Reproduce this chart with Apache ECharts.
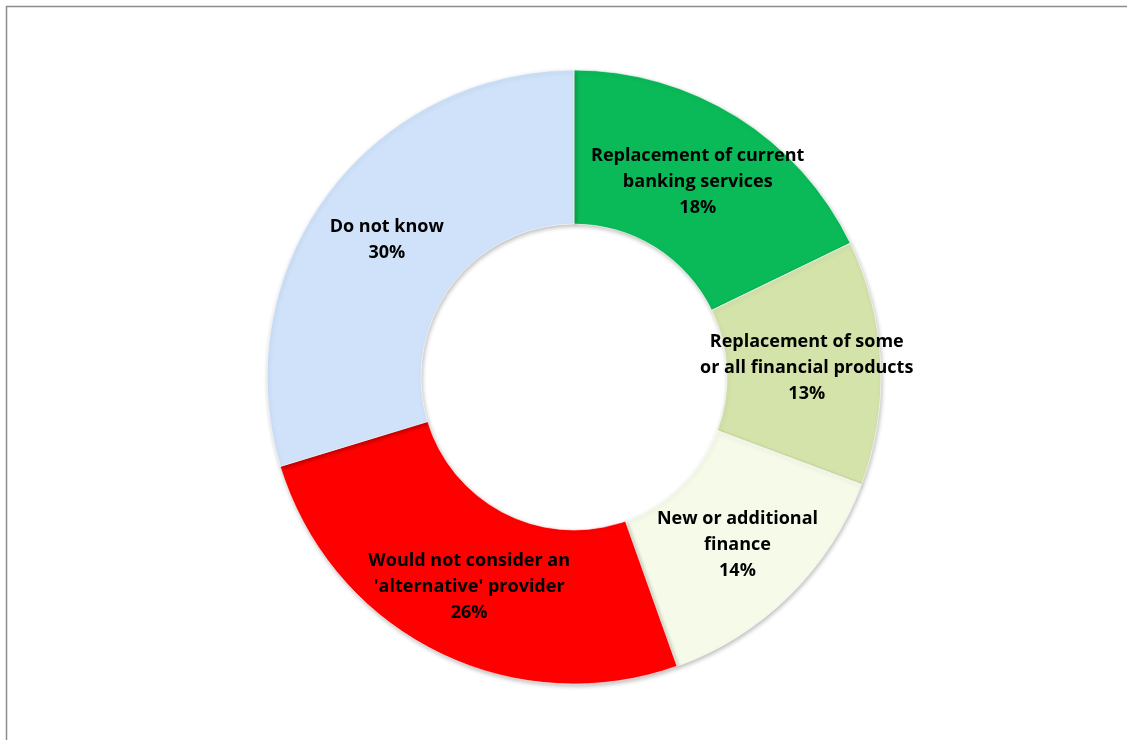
<!DOCTYPE html>
<html>
<head>
<meta charset="utf-8">
<script src="https://cdn.jsdelivr.net/npm/echarts@6/dist/echarts.min.js"></script>
<style>
  html, body { margin: 0; padding: 0; background: #fff; }
  #chart { width: 1127px; height: 740px; }
</style>
</head>
<body>
<div id="chart"></div>
<script>
// Attitudes towards 'alternative' finance providers (share of respondents, %)
const categories = [
  'Replacement of current\nbanking services',
  'Replacement of some\nor all financial products',
  'New or additional\nfinance',
  "Would not consider an\n'alternative' provider",
  'Do not know'
];
const shares = [18, 13, 14, 26, 30];
const sliceColors = ['#0ABA58', '#D4E3AA', '#F6FAE8', '#FF0000', '#CFE2FA'];

const chart = echarts.init(document.getElementById('chart'));

chart.setOption({
  animation: false,
  backgroundColor: '#ffffff',
  graphic: [{
    type: 'rect',
    shape: { x: 6.5, y: 6.5, width: 1140, height: 760 },
    style: { fill: 'none', stroke: '#8c8c8c', lineWidth: 1.5 },
    silent: true
  }],
  series: [{
    type: 'pie',
    center: [574, 377],
    radius: [153, 307],
    startAngle: 90,
    clockwise: true,
    data: categories.map((name, i) => ({
      name: name,
      value: shares[i],
      itemStyle: { color: sliceColors[i] }
    })),
    itemStyle: {
      borderColor: 'rgba(255,255,255,0.6)',
      borderWidth: 1,
      shadowBlur: 4,
      shadowOffsetX: 1,
      shadowOffsetY: 2,
      shadowColor: 'rgba(0,0,0,0.25)'
    },
    label: {
      show: true,
      position: 'inside',
      formatter: p => p.name + '\n' + p.value + '%',
      fontFamily: 'Open Sans',
      fontWeight: 'bold',
      fontSize: 18,
      lineHeight: 26,
      color: '#000000',
      align: 'center',
      offset: [0, 2]
    },
    labelLine: { show: false },
    emphasis: { disabled: true }
  }]
});
</script>
</body>
</html>
